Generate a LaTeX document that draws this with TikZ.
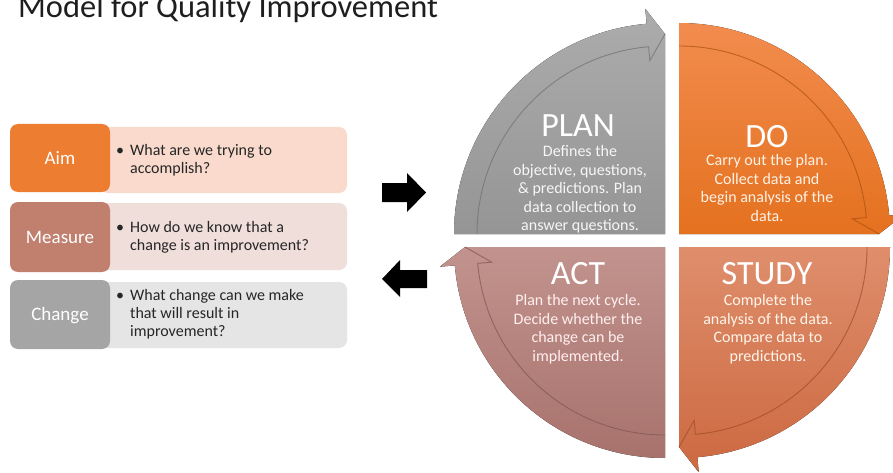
\documentclass[tikz,border=0pt]{standalone}
\usepackage{fontspec}
\setmainfont{Carlito}
\definecolor{aimdark}{HTML}{ED7D31}
\definecolor{aimlight}{HTML}{F9DACD}
\definecolor{measdark}{HTML}{C17F6E}
\definecolor{measlight}{HTML}{F0DEDA}
\definecolor{chgdark}{HTML}{A5A5A5}
\definecolor{chglight}{HTML}{E5E5E5}
\definecolor{plantop}{HTML}{ACACAC}
\definecolor{planbot}{HTML}{959595}
\definecolor{planline}{HTML}{6F6F6F}
\definecolor{dotop}{HTML}{F28C4E}
\definecolor{dobot}{HTML}{E4711F}
\definecolor{doline}{HTML}{A9500F}
\definecolor{studytop}{HTML}{DF8E6C}
\definecolor{studybot}{HTML}{CC6941}
\definecolor{studyline}{HTML}{9C4A2A}
\definecolor{acttop}{HTML}{C2938E}
\definecolor{actbot}{HTML}{A8726C}
\definecolor{actline}{HTML}{7E5450}
\definecolor{titlecol}{HTML}{1E1E1E}
\definecolor{qcol}{HTML}{262626}
\newcommand\pdsaquad[6]{%
  \begin{scope}[shift={(#1,#2)}]
    \fill[top color=#4, bottom color=#5]
      (0,0) -- ({180+#3}:211)
      arc[start angle={180+#3}, end angle={95+#3}, radius=211]
      -- ({95+#3}:226) -- ({90+#3}:200) -- cycle;
    \draw[#6, line width=0.9pt, opacity=0.7]
      ({180+#3}:188)
      arc[start angle={180+#3}, end angle={95+#3}, radius=188]
      -- ({95+#3}:174) -- ({90+#3}:200);
  \end{scope}}
\begin{document}
\begin{tikzpicture}[x=1pt,y=1pt,
  dbox/.style={rounded corners=8pt, inner sep=0pt, minimum width=100pt,
    text=white, font={\fontsize{19pt}{22pt}\selectfont},
    text height=12.2pt, text depth=0pt},
  lbox/.style={rounded corners=8pt, inner sep=0pt, minimum width=247pt},
  qtext/.style={anchor=west, inner sep=0pt, text=qcol,
    font={\fontsize{16pt}{18.3pt}\selectfont}},
  qhead/.style={inner sep=0pt, text=white, font={\fontsize{34pt}{38pt}\selectfont}},
  qbody/.style={inner sep=0pt, align=center,
    font={\fontsize{16pt}{18.5pt}\selectfont},
    execute at begin node=\strut, execute at end node=\strut}]
\useasboundingbox (0,0) rectangle (893,-473);
\fill[white] (0,0) rectangle (893,-473);

% title
\node[anchor=base west, inner sep=0pt, text=titlecol,
  font={\fontsize{32.5pt}{33pt}\selectfont}] (title) at (18,-18)
  {Model for Quality Improvement};

% left boxes
\node[lbox, fill=aimlight, minimum height=66pt] (aimq) at (223.5,-160) {};
\node[lbox, fill=measlight, minimum height=67pt] (measq) at (223.5,-236.5) {};
\node[lbox, fill=chglight, minimum height=66pt] (chgq) at (223.5,-315) {};
\node[dbox, fill=aimdark, minimum height=68pt] (aim) at (60,-158) {Aim};
\node[dbox, fill=measdark, minimum height=70pt] (meas) at (60,-237) {Measure};
\node[dbox, fill=chgdark, minimum height=69pt] (chg) at (60,-314.5) {Change};
\node[qtext] (aimt) at (116,-161)
  {\begin{tabular}{@{}l@{\hspace{6pt}}l@{}}\textbullet & What are we trying to\\ & accomplish?\end{tabular}};
\node[qtext] (meast) at (116,-237.5)
  {\begin{tabular}{@{}l@{\hspace{6pt}}l@{}}\textbullet & How do we know that a\\ & change is an improvement?\end{tabular}};
\node[qtext] (chgt) at (116,-315)
  {\begin{tabular}{@{}l@{\hspace{6pt}}l@{}}\textbullet & What change can we make\\ & that will result in\\ & improvement?\end{tabular}};

% black block arrows
\fill[black] (382,-183) -- (407,-183) -- (407,-173) -- (426,-192.5)
  -- (407,-212) -- (407,-202) -- (382,-202) -- cycle;
\fill[black] (427,-270) -- (400,-270) -- (400,-260) -- (382,-279)
  -- (400,-297) -- (400,-288) -- (427,-288) -- cycle;

% PDSA quadrants
\pdsaquad{665}{-234}{0}{plantop}{planbot}{planline}
\pdsaquad{679}{-234}{-90}{dotop}{dobot}{doline}
\pdsaquad{679}{-247}{-180}{studytop}{studybot}{studyline}
\pdsaquad{665}{-247}{90}{acttop}{actbot}{actline}

% quadrant texts
\node[qhead] (planh) at (578,-126) {PLAN};
\node[qbody, text=white!93!gray] (planb) at (580,-191)
  {Defines the\\objective, questions,\\\& predictions. Plan\\data collection to\\answer questions.};
\node[qhead] (doh) at (767,-137) {DO};
\node[qbody, text=white!90!orange] (dob) at (767,-190.5)
  {Carry out the plan.\\Collect data and\\begin analysis of the\\data.};
\node[qhead] (studyh) at (767,-274) {STUDY};
\node[qbody, text=white!92!orange] (studyb) at (768,-330.5)
  {Complete the\\analysis of the data.\\Compare data to\\predictions.};
\node[qhead] (acth) at (578,-274) {ACT};
\node[qbody, text=white!94!red] (actb) at (578,-330.5)
  {Plan the next cycle.\\Decide whether the\\change can be\\implemented.};
\end{tikzpicture}
\end{document}
